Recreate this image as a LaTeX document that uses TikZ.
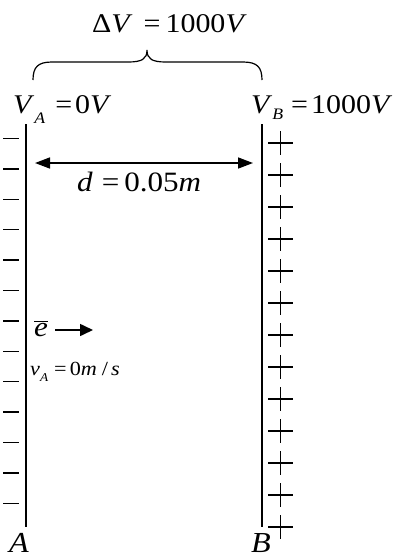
\documentclass[tikz,border=0pt]{standalone}
\usepackage{fontspec}
\setmainfont{Liberation Serif}[FakeStretch=1.11]
\usetikzlibrary{arrows.meta}
\newcommand{\lowsub}[3]{\raisebox{#3}{\fontsize{#1}{#1}\selectfont\textit{#2}}}
\newcommand{\eqs}[2]{\hspace{#1}=\hspace{#2}}
\begin{document}
\begin{tikzpicture}[x=1pt, y=-1pt,
        lbl/.style={inner sep=0pt, anchor=base west, font=\fontsize{27}{29}\selectfont},
        plate/.style={line width=1.6pt},
        charge/.style={line width=1.4pt},
        field/.style={line width=1.6pt}]
    \useasboundingbox (0,0) rectangle (397,557);

    % plates
    \coordinate (Atop) at (26,124);
    \coordinate (Abot) at (26,527);
    \coordinate (Btop) at (262,124);
    \coordinate (Bbot) at (262,527);
    \draw[plate] (Atop) -- (Abot);
    \draw[plate] (Btop) -- (Bbot);

    % charges
    \foreach \i in {0,...,12} {
        \draw[charge] (3,138.5+30.4*\i) -- (19,138.5+30.4*\i);
        \draw[charge, line width=1.2pt] (268,143+32*\i) -- (293,143+32*\i)
            (280.5,131+32*\i) -- (280.5,155+32*\i);
    }

    % brace
    \draw[line width=1.2pt] (33,80) .. controls (33,67) and (38,62) .. (52,62) -- (128,62)
        .. controls (142,62) and (147,59) .. (147,50)
        .. controls (147,59) and (152,62) .. (166,62) -- (243,62)
        .. controls (257,62) and (262,67) .. (262,80);
    \node[lbl] (dV) at (92,32) {Δ\textit{V}\eqs{11pt}{5pt}1000\textit{V}};

    \node[lbl] (VA) at (13,113) {\textit{V}\lowsub{16}{A}{-10pt}\eqs{10pt}{3pt}0\textit{V}};
    \node[lbl] (VB) at (251,113) {\textit{V}\lowsub{16}{B}{-6pt}\eqs{8pt}{3pt}1000\textit{V}};

    % distance
    \coordinate (dl) at (35,163);
    \coordinate (dr) at (253,163);
    \draw[field, {Triangle[length=15pt,width=11pt]}-{Triangle[length=15pt,width=11pt]}] (dl) -- (dr);
    \node[lbl, font=\fontsize{28}{30}\selectfont] (d) at (77,191) {\textit{d}\eqs{9pt}{5pt}0.05\textit{m}};

    % electron
    \node[lbl, font=\fontsize{28}{30}\selectfont] (e) at (34,336) {$\overline{\mbox{\textit{e}}}$};
    \coordinate (efrom) at (55,330);
    \coordinate (eto) at (93,330);
    \draw[field, -{Triangle[length=13pt,width=12pt]}] (efrom) -- (eto);
    \node[lbl, font=\fontsize{20}{22}\selectfont] (vA) at (30,375) {\textit{v}\lowsub{12}{A}{-6pt}\eqs{6pt}{3pt}0\textit{m}\hspace{5pt}/\hspace{3pt}\textit{s}};

    \node[lbl, font=\fontsize{29}{31}\selectfont] (lA) at (9,552) {\textit{A}};
    \node[lbl, font=\fontsize{29}{31}\selectfont] (lB) at (251,552) {\textit{B}};
\end{tikzpicture}
\end{document}
